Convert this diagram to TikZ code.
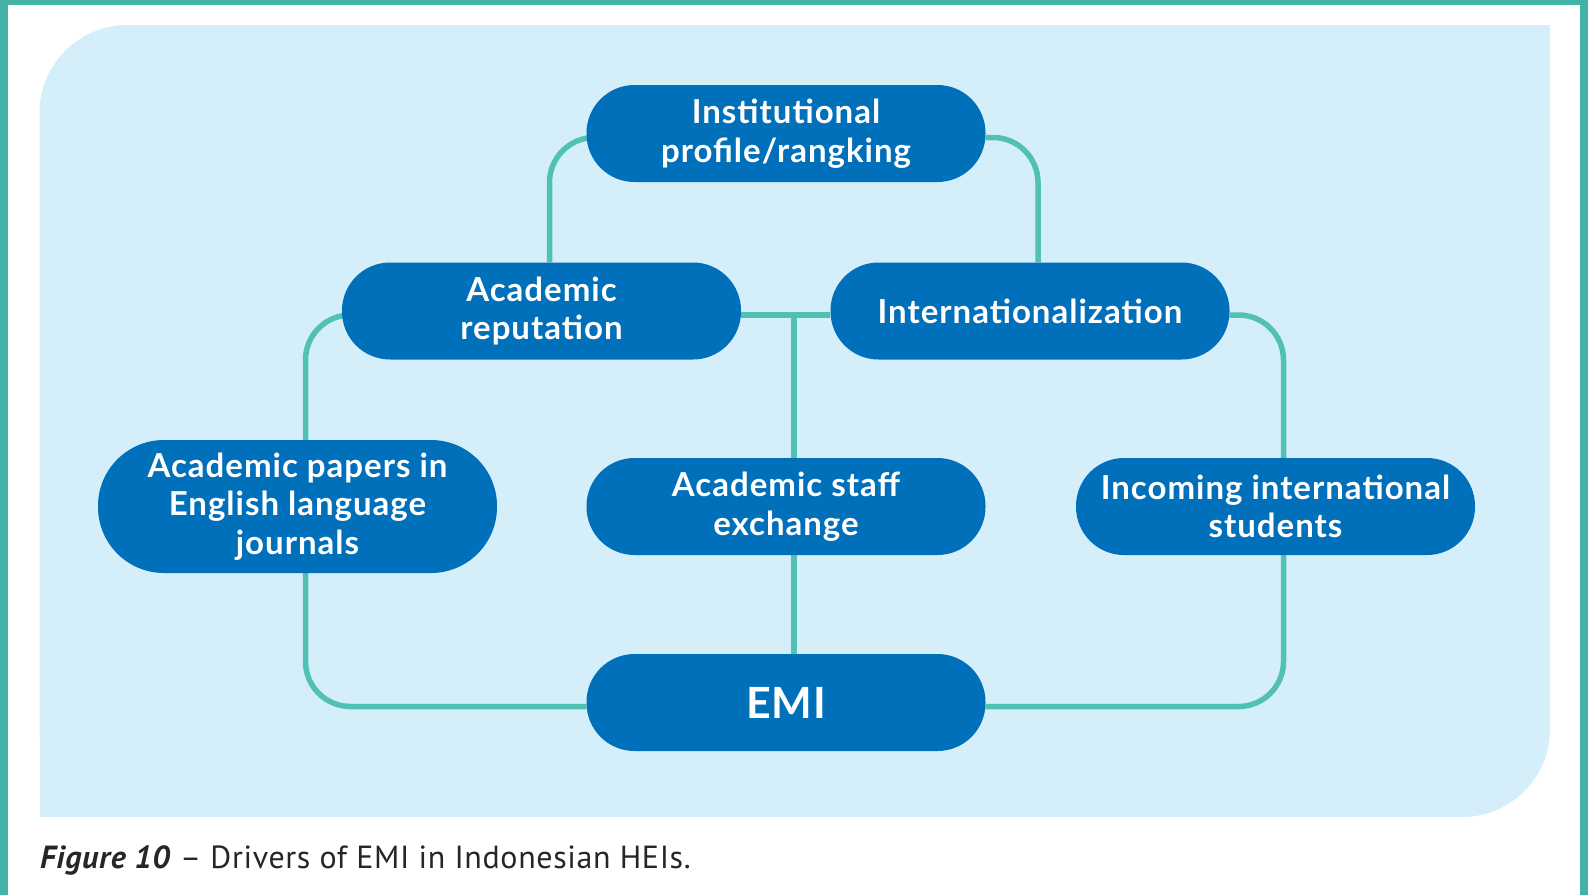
\documentclass[tikz,border=0pt]{standalone}
\usepackage{fontspec}
\setmainfont{Lato}
\newfontfamily\capfont{PT Sans}
\usetikzlibrary{calc}
\definecolor{nodeblue}{HTML}{0070BA}
\definecolor{linkteal}{HTML}{52C1B5}
\definecolor{panelblue}{HTML}{D4EEFA}
\definecolor{frameteal}{HTML}{44B1A7}
\pgfdeclarelayer{back}
\pgfdeclarelayer{links}
\pgfsetlayers{back,links,main}
\tikzset{
  driver/.style={fill=nodeblue, text=white, rounded corners=48pt,
    minimum width=399pt, minimum height=97pt, inner sep=0pt, align=center,
    font=\fontsize{33}{38.5}\selectfont\bfseries\addfontfeatures{LetterSpace=3}},
  link/.style={draw=linkteal, line width=5.5pt, rounded corners=45pt}
}
\begin{document}
\begin{tikzpicture}[x=1pt,y=-1pt]
\useasboundingbox (0,0) rectangle (1588,895);
% frame and panel
\begin{pgfonlayer}{back}
  \fill[white] (0,0) rectangle (1588,895);
  \fill[frameteal] (0,0) rectangle (8,895);
  \fill[frameteal] (0,0) rectangle (1588,5);
  \fill[frameteal] (1580,0) rectangle (1588,895);
  \fill[panelblue, rounded corners=88pt] (39.5,25) rectangle (1550,817);
  \fill[panelblue] (1450,25) rectangle (1550,125);
  \fill[panelblue] (39.5,717) rectangle (140,817);
\end{pgfonlayer}
% drivers
\node[driver] (inst) at (786,133.5) {Institutional\\profile/rangking};
\node[driver] (rep) at (541.5,311) {Academic\\reputation};
\node[driver] (intl) at (1030,311) {Internationalization};
\node[driver, minimum height=133pt, rounded corners=66pt] (papers) at (297.5,506.5) {Academic papers in\\English language\\journals};
\node[driver] (staff) at (786,506.5) {Academic staff\\exchange};
\node[driver] (incoming) at (1275.5,506.5) {Incoming international\\students};
\node[driver, font=\fontsize{43}{48}\selectfont\bfseries\addfontfeatures{LetterSpace=2}] (emi) at (786,702.5) {EMI};
% connectors
\begin{pgfonlayer}{links}
  \coordinate (hub) at (794,315);
  \draw[link] ([yshift=-4pt]inst.west) -| ([xshift=8pt]rep.north);
  \draw[link] ([yshift=-4pt]inst.east) -| ([xshift=8pt]intl.north);
  \draw[link] ([yshift=-4pt]rep.east) -- ([yshift=-4pt]intl.west);
  \draw[link] (hub) -- ([xshift=8pt]staff.north);
  \draw[link] ([xshift=8pt]staff.south) -- ([xshift=8pt]emi.north);
  \draw[link] ([yshift=-4pt]rep.west) -| ([xshift=8pt]papers.north);
  \draw[link] ([xshift=8pt]papers.south) |- ([yshift=-4pt]emi.west);
  \draw[link] ([yshift=-4pt]intl.east) -| ([xshift=8pt]incoming.north);
  \draw[link] ([xshift=8pt]incoming.south) |- ([yshift=-4pt]emi.east);
\end{pgfonlayer}
% caption
\node[anchor=base west, inner sep=0pt, text=black!85, font=\capfont\fontsize{32}{36}\selectfont\addfontfeatures{LetterSpace=2}] (cap) at (40,868)
  {\textbf{\textit{Figure 10}} – Drivers of EMI in Indonesian HEIs.};
\end{tikzpicture}
\end{document}
